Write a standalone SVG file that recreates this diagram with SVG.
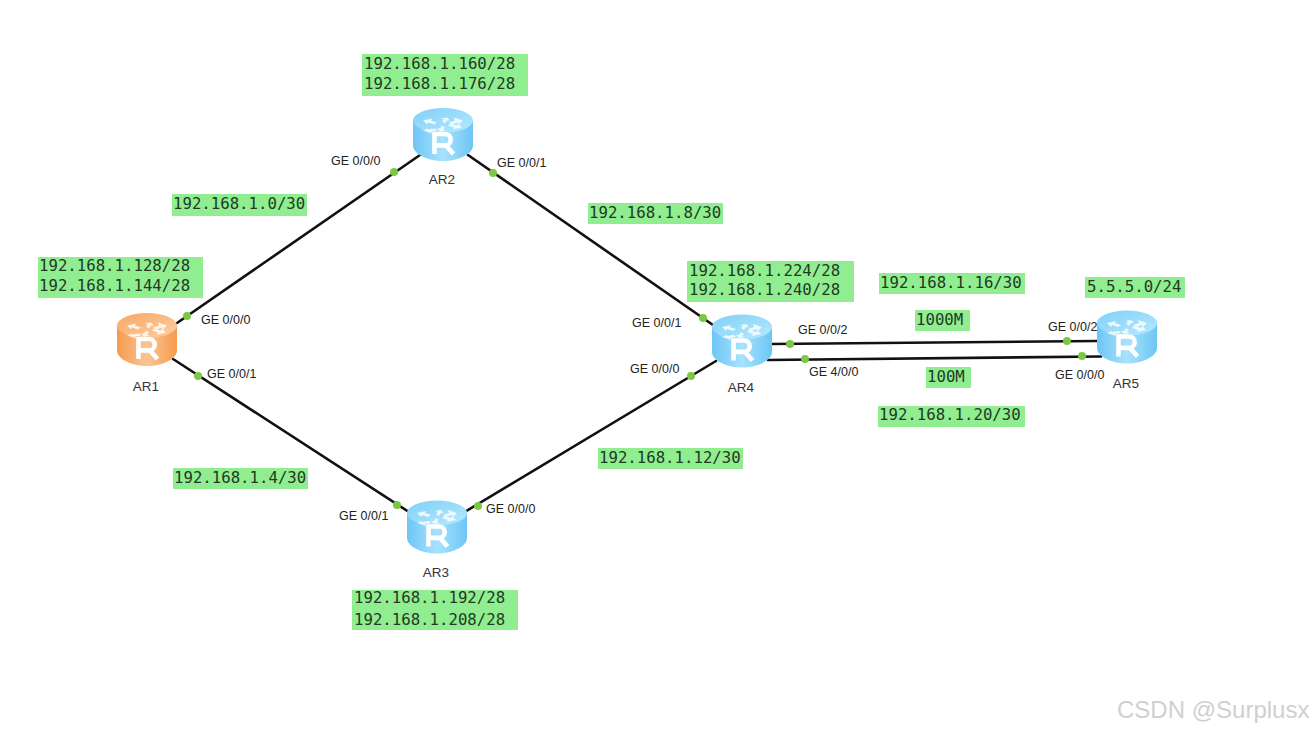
<svg xmlns="http://www.w3.org/2000/svg" width="1313" height="732" viewBox="0 0 1313 732">
<style>
.bg{fill:#fff}
.lnk{stroke:#111;stroke-width:2.6;fill:none;stroke-linecap:round}
.dot{fill:#7ac943}
.box{fill:#90ee90}
.net{font-family:"DejaVu Sans Mono","Liberation Mono",monospace;font-size:15.7px;fill:#1f3a25}
.if{font-family:"Liberation Sans",Arial,sans-serif;font-size:12.5px;fill:#222}
.nm{font-family:"Liberation Sans",Arial,sans-serif;font-size:13.5px;fill:#333;text-anchor:middle}
.wm{font-family:"Liberation Sans",Arial,sans-serif;font-size:24px;fill:#d0d0d0}
.ar{fill:#fff;opacity:.82}
.r{fill:none;stroke:#fff;stroke-width:4.6}
</style>
<defs>
<linearGradient id="blueBody" x1="0" x2="1" y1="0" y2="0"><stop offset="0" stop-color="#6cc6f5"/><stop offset=".5" stop-color="#a8e2fd"/><stop offset="1" stop-color="#6cc6f5"/></linearGradient>
<linearGradient id="blueTop" x1="0" x2="1" y1="0" y2="1"><stop offset="0" stop-color="#7fd0f8"/><stop offset="1" stop-color="#b7e9fe"/></linearGradient>
<linearGradient id="orangeBody" x1="0" x2="1" y1="0" y2="0"><stop offset="0" stop-color="#f59a4e"/><stop offset=".5" stop-color="#fdc592"/><stop offset="1" stop-color="#f59a4e"/></linearGradient>
<linearGradient id="orangeTop" x1="0" x2="1" y1="0" y2="1"><stop offset="0" stop-color="#f8a661"/><stop offset="1" stop-color="#fdd0a6"/></linearGradient>
<g id="glyph">
<path class="ar" d="M-20 -14l9 -2 -1 2 6 2 -3 2 -6 -2 -1 2z"/>
<path class="ar" d="M20 -14l-9 -3 1 3 -6 2 3 2 6 -2 1 2z"/>
<path class="ar" d="M-20 -10l9 3 -1 -2 6 -1 -2 -2 -7 1 0 -1z" transform="translate(0,6)"/>
<path class="ar" d="M4 -17l3 3 -3 0 -2 3 -3 -2 2 -2 -3 -1z"/>
<path class="ar" d="M-3 -3l-3 -3 3 0 2 -3 3 2 -2 2 3 1z"/>
<path class="ar" d="M19 -7l-9 2 1 -2 -6 -2 2 -2 7 2 1 -2z"/>
<path class="r" d="M-8.5 19.5v-20h10.5a5.6 5.6 0 0 1 0 11.4h-10.5M3 11l7.5 8.500"/>
</g>
<g id="blue">
<path fill="url(#blueBody)" d="M-30 -14v25c0 8 14 15.500 30 15.500s30 -7.500 30 -15.500v-25z"/>
<ellipse cx="0" cy="-14" rx="30" ry="12.500" fill="url(#blueTop)"/>
<use href="#glyph"/>
</g>
<g id="orange">
<path fill="url(#orangeBody)" d="M-30 -14v25c0 8 14 15.500 30 15.500s30 -7.500 30 -15.500v-25z"/>
<ellipse cx="0" cy="-14" rx="30" ry="12.500" fill="url(#orangeTop)"/>
<use href="#glyph"/>
</g>
</defs>
<rect class="bg" width="1313" height="732"/>
<g id="connectors">
<line class="lnk" x1="177" y1="323" x2="420" y2="155"/>
<line class="lnk" x1="173" y1="359" x2="412" y2="514"/>
<line class="lnk" x1="468" y1="155" x2="713" y2="325"/>
<line class="lnk" x1="463" y1="513" x2="716" y2="361"/>
<line class="lnk" x1="771" y1="344" x2="1097" y2="341"/>
<line class="lnk" x1="768" y1="360" x2="1101" y2="356.500"/>
<circle class="dot" cx="187" cy="316" r="4"/>
<circle class="dot" cx="198" cy="376" r="4"/>
<circle class="dot" cx="394" cy="172" r="4"/>
<circle class="dot" cx="493" cy="173" r="4"/>
<circle class="dot" cx="703" cy="318" r="4"/>
<circle class="dot" cx="691" cy="376" r="4"/>
<circle class="dot" cx="397" cy="505" r="4"/>
<circle class="dot" cx="478" cy="506" r="4"/>
<circle class="dot" cx="790" cy="344" r="4"/>
<circle class="dot" cx="805" cy="359" r="4"/>
<circle class="dot" cx="1067" cy="341" r="4"/>
<circle class="dot" cx="1082" cy="356" r="4"/>
</g>
<g id="AR1"><use href="#orange" x="147" y="339.500"/><text class="nm" x="146" y="391">AR1</text></g>
<g id="AR2"><use href="#blue" x="443" y="134.500"/><text class="nm" x="442" y="184">AR2</text></g>
<g id="AR3"><use href="#blue" x="437" y="527"/><text class="nm" x="436" y="577">AR3</text></g>
<g id="AR4"><use href="#blue" x="742" y="341"/><text class="nm" x="741" y="392">AR4</text></g>
<g id="AR5"><use href="#blue" x="1127" y="337"/><text class="nm" x="1126" y="388">AR5</text></g>
<g id="interfaces">
<text class="if" x="201" y="324">GE 0/0/0</text>
<text class="if" x="207" y="378">GE 0/0/1</text>
<text class="if" x="331" y="165">GE 0/0/0</text>
<text class="if" x="497" y="167">GE 0/0/1</text>
<text class="if" x="632" y="327">GE 0/0/1</text>
<text class="if" x="630" y="373">GE 0/0/0</text>
<text class="if" x="339" y="520">GE 0/0/1</text>
<text class="if" x="486" y="513">GE 0/0/0</text>
<text class="if" x="798" y="334">GE 0/0/2</text>
<text class="if" x="809" y="376">GE 4/0/0</text>
<text class="if" x="1048" y="331">GE 0/0/2</text>
<text class="if" x="1055" y="379">GE 0/0/0</text>
</g>
<g id="networks">
<rect class="box" x="38" y="257" width="165" height="41"/>
<text class="net" x="39" y="271">192.168.1.128/28</text>
<text class="net" x="39" y="291">192.168.1.144/28</text>
<rect class="box" x="362" y="54" width="166" height="42"/>
<text class="net" x="364" y="69">192.168.1.160/28</text>
<text class="net" x="364" y="89">192.168.1.176/28</text>
<rect class="box" x="352" y="590" width="166" height="40"/>
<text class="net" x="354" y="603">192.168.1.192/28</text>
<text class="net" x="354" y="625">192.168.1.208/28</text>
<rect class="box" x="687" y="261" width="167" height="41"/>
<text class="net" x="689" y="276">192.168.1.224/28</text>
<text class="net" x="689" y="295">192.168.1.240/28</text>
<rect class="box" x="172" y="194" width="135" height="22"/>
<text class="net" x="173" y="209">192.168.1.0/30</text>
<rect class="box" x="173" y="468" width="135" height="21"/>
<text class="net" x="174" y="483">192.168.1.4/30</text>
<rect class="box" x="588" y="203" width="135" height="21"/>
<text class="net" x="589" y="218">192.168.1.8/30</text>
<rect class="box" x="598" y="448" width="145" height="21"/>
<text class="net" x="599" y="463">192.168.1.12/30</text>
<rect class="box" x="879" y="273" width="146" height="21"/>
<text class="net" x="880" y="288">192.168.1.16/30</text>
<rect class="box" x="878" y="406" width="147" height="21"/>
<text class="net" x="879" y="420">192.168.1.20/30</text>
<rect class="box" x="1085" y="277" width="100" height="21"/>
<text class="net" x="1087" y="292">5.5.5.0/24</text>
<rect class="box" x="915" y="310" width="55" height="21"/>
<text class="net" x="916" y="325">1000M</text>
<rect class="box" x="926" y="367" width="45" height="21"/>
<text class="net" x="927" y="382">100M</text>
</g>
<text class="wm" x="1117" y="718">CSDN @Surplusx</text>
</svg>
